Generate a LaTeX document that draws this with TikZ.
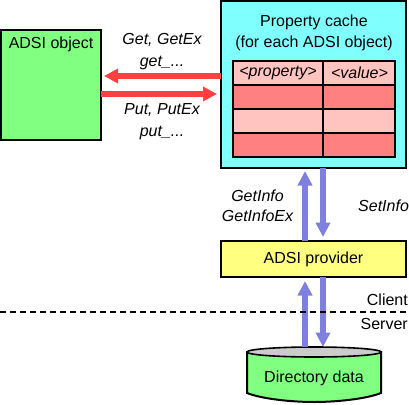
\documentclass[tikz,border=0pt]{standalone}
\usepackage{fontspec}
\setmainfont{Liberation Sans}
\usetikzlibrary{arrows.meta,calc}
\definecolor{cgreen}{HTML}{80FF80}
\definecolor{ccyan}{HTML}{80FFFF}
\definecolor{cyellow}{HTML}{FFFF80}
\definecolor{cred}{HTML}{FF4040}
\definecolor{cblue}{HTML}{7F7FDF}
\definecolor{rowdark}{HTML}{FF8080}
\definecolor{rowlight}{HTML}{FFC4C0}
\tikzset{
  x=1pt,y=-1pt,
  box/.style={draw=black,line width=2pt,inner sep=0pt,outer sep=0pt,align=center},
  cell/.style={draw=black,line width=1.8pt,inner sep=0pt,outer sep=0pt,minimum height=24pt},
  colA/.style={cell,minimum width=90pt},
  colB/.style={cell,minimum width=72pt},
  lab/.style={font=\fontsize{16}{20}\selectfont,inner sep=0pt,align=center},
  ilab/.style={lab,font=\fontsize{16}{20}\selectfont\itshape},
  redarrow/.style={draw=cred,line width=6pt,-{Triangle[length=14pt,width=14pt,fill=cred]}},
  bluearrow/.style={draw=cblue,line width=6.5pt,-{Triangle[length=14.5pt,width=14pt,fill=cblue]}},
}
\begin{document}
\begin{tikzpicture}
\useasboundingbox (0,0) rectangle (409,404);
% boxes
\node[box,fill=cgreen,minimum width=100pt,minimum height=110pt] (object) at (51,85) {};
\node[lab] (objectlabel) at (51,44.5) {ADSI object};
\node[box,fill=ccyan,minimum width=185pt,minimum height=167pt] (cache) at (313.5,84.5) {};
\node[lab] (cachelabel) at (314,33) {Property cache\\[0.9pt](for each ADSI object)};
\node[box,fill=cyellow,minimum width=185pt,minimum height=36pt,lab] (provider) at (313.5,259) {\raisebox{-1pt}{ADSI provider}};
% table
\node[colA,fill=rowlight,ilab] (p1) at (278,73) {\raisebox{-1.5pt}{<property>}};
\node[colB,fill=rowlight,ilab] (v1) at (359,73) {\raisebox{-1.5pt}{\hspace{1pt}<value>}};
\node[colA,fill=rowdark] (p2) at (278,97) {};
\node[colB,fill=rowdark] (v2) at (359,97) {};
\node[colA,fill=rowlight] (p3) at (278,121) {};
\node[colB,fill=rowlight] (v3) at (359,121) {};
\node[colA,fill=rowdark] (p4) at (278,145) {};
\node[colB,fill=rowdark] (v4) at (359,145) {};
% cylinder
\draw[black,line width=2pt,fill=cgreen] (247,352) -- (247,393)
  .. controls (262,399) and (292,402) .. (314,402)
  .. controls (336,402) and (366,399) .. (381,393) -- (381,352) -- cycle;
\draw[black,line width=1.6pt,fill=black!20] (314,352) ellipse [x radius=67pt,y radius=5pt];
\node[lab] (directory) at (314,378) {Directory data};
\coordinate (dirtop) at (314,347);
% arrow rails
\coordinate (upx) at (305,0);
\coordinate (downx) at (323,0);
\coordinate (gety) at (0,76);
\coordinate (puty) at (0,94);
% connectors
\draw[redarrow,shorten >=3pt] (cache.west |- gety) -- (object.east |- gety);
\draw[redarrow,shorten >=4pt] (object.east |- puty) -- (cache.west |- puty);
\draw[bluearrow,shorten >=3pt] (provider.north -| upx) -- (cache.south -| upx);
\draw[bluearrow,shorten >=4pt] (cache.south -| downx) -- (provider.north -| downx);
\draw[bluearrow,shorten >=4pt] (dirtop -| upx) -- (provider.south -| upx);
\draw[bluearrow] (provider.south -| downx) -- (dirtop -| downx);
% dashed line
\coordinate (dashl) at (0,312);
\coordinate (dashr) at (409,312);
\draw[black,line width=1.5pt,dash pattern=on 6pt off 4pt] (dashl) -- (dashr);
% labels
\node[ilab] (getlabel) at (162,52) {Get, GetEx\\[2pt]get\_...};
\node[ilab] (putlabel) at (162,122) {Put, PutEx\\[2pt]put\_...};
\node[ilab] (getinfo) at (257.5,206) {GetInfo\\[0pt]GetInfoEx};
\node[ilab,anchor=west] (setinfo) at (358,206) {SetInfo};
\node[lab,anchor=east] (client) at (408,300) {Client};
\node[lab,anchor=east] (server) at (408,324) {Server};
\end{tikzpicture}
\end{document}
